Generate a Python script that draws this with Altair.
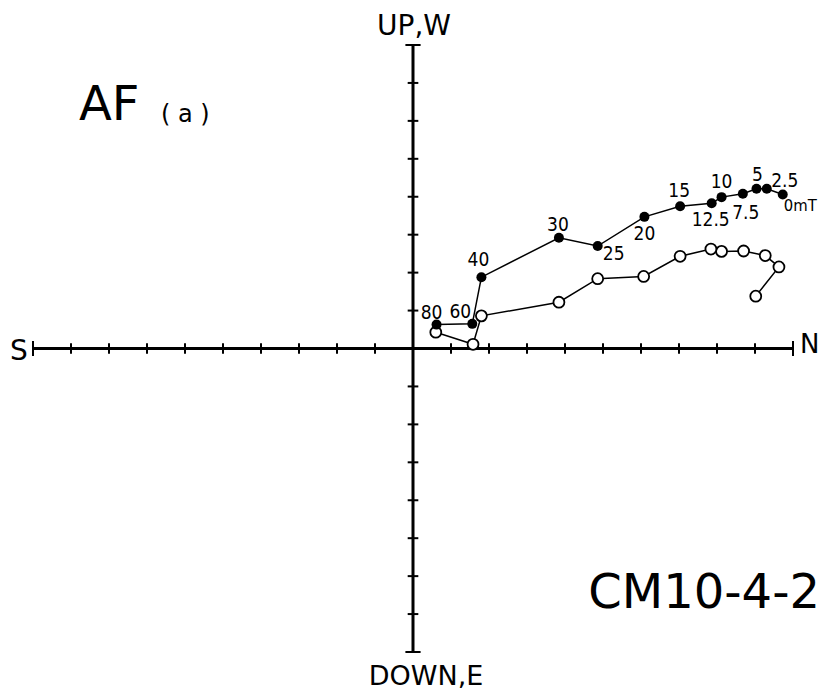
import altair as alt
import pandas as pd

# AF demagnetisation steps (closed = horizontal projection, open = vertical projection)
steps = ["0mT", "2.5", "5", "7.5", "10", "12.5", "15", "20", "25", "30", "40", "60", "80"]
closed_n = [9.73, 9.31, 9.04, 8.68, 8.12, 7.86, 7.03, 6.09, 4.86, 3.84, 1.80, 1.56, 0.62]
closed_up = [4.06, 4.21, 4.21, 4.08, 3.99, 3.83, 3.75, 3.47, 2.70, 2.92, 1.88, 0.65, 0.63]

# open symbols, in the order the connecting line is drawn
open_n = [9.02, 9.63, 9.27, 8.70, 8.12, 7.84, 7.03, 6.07, 4.86, 3.84, 1.80, 1.58, 0.60]
open_w = [1.38, 2.15, 2.45, 2.57, 2.56, 2.62, 2.43, 1.90, 1.84, 1.22, 0.86, 0.11, 0.43]

x_ticks = list(range(-10, 11))
y_ticks = list(range(-8, 9))

FONT = "DejaVu Sans"
LFONT = "DejaVu Sans Condensed, DejaVu Sans"

closed_df = pd.DataFrame({"n": closed_n, "u": closed_up, "step": steps, "order": range(len(steps))})
open_df = pd.DataFrame({"n": open_n, "u": open_w, "order": range(len(open_n))})

xs = alt.Scale(domain=[-10, 10], nice=False, zero=False)
ys = alt.Scale(domain=[-8, 8], nice=False, zero=False)
X = lambda f: alt.X(f, type="quantitative", scale=xs, axis=None)
Y = lambda f: alt.Y(f, type="quantitative", scale=ys, axis=None)

# axes lines
axes_df = pd.DataFrame({"x": [-10, 0], "x2": [10, 0], "y": [0, -8], "y2": [0, 8]})
axes = alt.Chart(axes_df).mark_rule(strokeWidth=3, color="black").encode(
    x=X("x"), x2="x2", y=Y("y"), y2="y2")

# tick marks
hx = pd.DataFrame({"x": [t for t in x_ticks if t != 0]})
hx["h"] = [0.2 if abs(t) == 10 else 0.14 for t in hx["x"]]
hx["y"] = -hx["h"]
hx["y2"] = hx["h"]
xt = alt.Chart(hx).mark_rule(strokeWidth=2, color="black").encode(
    x=X("x"), y=Y("y"), y2="y2")

vy = pd.DataFrame({"y": [t for t in y_ticks if t != 0]})
vy["w"] = [0.2 if abs(t) == 8 else 0.14 for t in vy["y"]]
vy["x"] = -vy["w"]
vy["x2"] = vy["w"]
yt = alt.Chart(vy).mark_rule(strokeWidth=2, color="black").encode(
    y=Y("y"), x=X("x"), x2="x2")

# data lines and symbols
closed_line = alt.Chart(closed_df).mark_line(color="black", strokeWidth=1.5).encode(
    x=X("n"), y=Y("u"), order="order:Q")
open_line = alt.Chart(open_df).mark_line(color="black", strokeWidth=1.5).encode(
    x=X("n"), y=Y("u"), order="order:Q")
closed_pts = alt.Chart(closed_df).mark_point(
    shape="circle", filled=True, color="black", size=100, opacity=1).encode(x=X("n"), y=Y("u"))
open_pts = alt.Chart(open_df).mark_point(
    shape="circle", filled=True, fill="white", stroke="black", strokeWidth=1.8,
    size=120, opacity=1).encode(x=X("n"), y=Y("u"))

label_style = {
    "0mT": ("left", 1, 12, 16.5),
    "2.5": ("center", 18, -8, 19),
    "5": ("center", 1, -14, 19),
    "7.5": ("center", 3, 19, 19),
    "10": ("center", 0, -15, 19),
    "12.5": ("center", -1, 17, 19),
    "15": ("center", -1, -15, 19),
    "20": ("center", 0, 17, 19),
    "25": ("center", 16, 8, 19),
    "30": ("center", -1, -13, 19),
    "40": ("center", -3, -17, 19),
    "60": ("center", -12, -12, 19),
    "80": ("center", -5, -12, 19),
}
label_layers = []
for s in steps:
    al, dx, dy, fs = label_style[s]
    label_layers.append(
        alt.Chart(closed_df).transform_filter(alt.datum.step == s).mark_text(
            align=al, baseline="middle", dx=dx, dy=dy, font=LFONT, fontSize=fs, color="black"
        ).encode(x=X("n"), y=Y("u"), text="step:N"))

def note(txt, x, y, size, align="left", baseline="alphabetic"):
    return alt.Chart(pd.DataFrame({"t": [txt]})).mark_text(
        align=align, baseline=baseline, font=FONT, fontSize=size, color="black"
    ).encode(x=alt.value(x), y=alt.value(y), text="t:N")

texts = [
    note("AF", 46, 75, 48),
    note("( a )", 128, 77, 24),
    note("UP,W", 381, -10, 28, align="center"),
    note("DOWN,E", 393, 640, 27, align="center"),
    note("S", -14, 307, 28, align="center", baseline="middle"),
    note("N", 767, 300, 26, align="left", baseline="middle"),
    note("CM10-4-2", 787, 563, 48, align="right"),
]

chart = alt.layer(axes, xt, yt, open_line, closed_line, open_pts, closed_pts,
                  *label_layers, *texts).properties(
    width=760, height=607,
    padding={"left": 25, "top": 37, "right": 26, "bottom": 40},
    autosize=alt.AutoSizeParams(type="none"),
    background="white",
).configure_view(strokeWidth=0, stroke=None)

chart.save("out.html", embed_options={"renderer": "svg", "actions": False})
